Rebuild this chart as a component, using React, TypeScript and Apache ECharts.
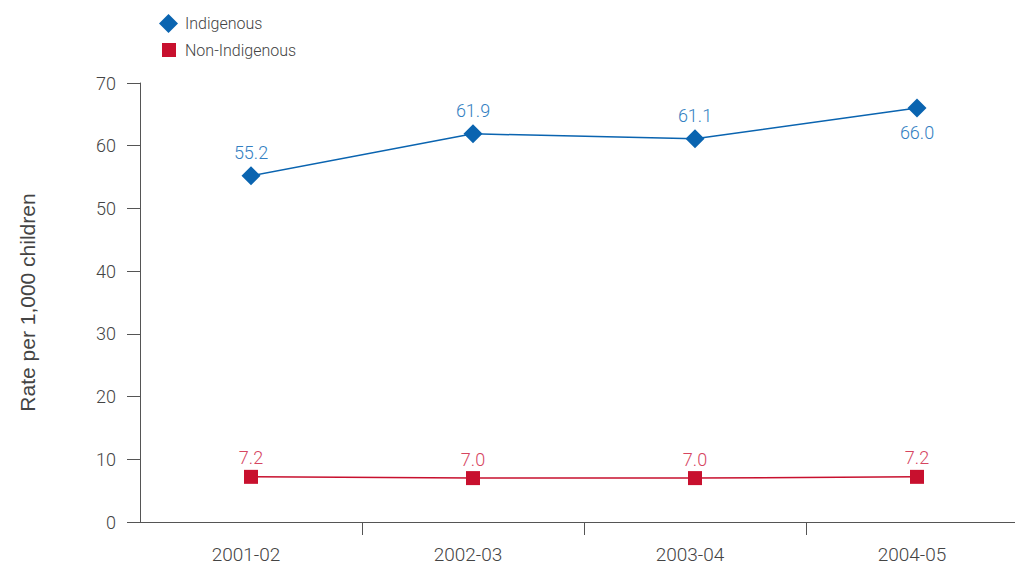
import React, { useEffect, useRef } from "react";
import * as echarts from "echarts";

const categories = ["2001-02", "2002-03", "2003-04", "2004-05"];
const indigenous = [55.2, 61.9, 61.1, 66.0];
const nonIndigenous = [7.2, 7.0, 7.0, 7.2];
const yTicks = { min: 0, max: 70, interval: 10 };

const FONT = "Roboto, 'Noto Sans', sans-serif";

export default function App() {
  const ref = useRef<HTMLDivElement>(null);
  useEffect(() => {
    if (!ref.current) return;
    const chart = echarts.init(ref.current, undefined, { renderer: "svg" });
    chart.setOption({
      animation: false,
      textStyle: { fontFamily: FONT },
      legend: [
        {
          left: 159,
          top: 14,
          padding: 0,
          itemWidth: 19,
          itemHeight: 19,
          data: [{ name: "Indigenous", icon: "diamond" }],
          textStyle: { fontSize: 16, fontWeight: 300, color: "#444", fontFamily: FONT, padding: [0, 0, 0, 2] },
        },
        {
          left: 162,
          top: 42,
          padding: 0,
          itemWidth: 14,
          itemHeight: 14,
          data: [{ name: "Non-Indigenous", icon: "rect" }],
          textStyle: { fontSize: 16, fontWeight: 300, color: "#444", fontFamily: FONT, padding: [0, 0, 0, 4] },
        },
      ],
      grid: { left: 140, right: 2, top: 83, bottom: 43 },
      xAxis: {
        type: "category",
        data: categories,
        boundaryGap: true,
        axisLine: { lineStyle: { color: "#555", width: 1 } },
        axisTick: {
          show: true,
          length: 13,
          interval: (i: number) => i !== 0 && i !== 4,
          lineStyle: { color: "#555" },
        },
        axisLabel: {
          color: "#444",
          fontSize: 19,
          fontWeight: 300,
          margin: 23,
          padding: [0, 10, 0, 0],
          fontFamily: FONT,
        },
      },
      yAxis: {
        type: "value",
        min: yTicks.min,
        max: yTicks.max,
        interval: yTicks.interval,
        name: "Rate per 1,000 children",
        nameLocation: "middle",
        nameGap: 102,
        nameTextStyle: { fontSize: 21, color: "#444", fontFamily: "'Liberation Sans', Arial, sans-serif" },
        axisLine: { show: true, lineStyle: { color: "#555", width: 1 } },
        axisTick: { show: true, length: 13, lineStyle: { color: "#555" } },
        axisLabel: { color: "#444", fontSize: 18, fontWeight: 300, margin: 24, fontFamily: FONT },
        splitLine: { show: false },
      },
      series: [
        {
          name: "Indigenous",
          type: "line",
          data: indigenous.map((v, i) => ({
            value: v,
            label: { position: i === 3 ? "bottom" : "top", distance: i === 3 ? 6 : 5 },
          })),
          symbol: "diamond",
          symbolSize: 19,
          color: "#0a64b0",
          lineStyle: { color: "#0a64b0", width: 1.5 },
          itemStyle: { color: "#0a64b0" },
          label: {
            show: true,
            color: "#347fc2",
            fontSize: 18,
            fontWeight: 300,
            fontFamily: FONT,
            formatter: (p: any) => Number(p.value).toFixed(1),
          },
        },
        {
          name: "Non-Indigenous",
          type: "line",
          data: nonIndigenous,
          symbol: "rect",
          symbolSize: 14,
          color: "#c8102e",
          lineStyle: { color: "#c8102e", width: 1.5 },
          itemStyle: { color: "#c8102e" },
          label: {
            show: true,
            position: "top",
            color: "#d6455f",
            fontSize: 18,
            fontWeight: 300,
            distance: 3,
            fontFamily: FONT,
            formatter: (p: any) => Number(p.value).toFixed(1),
          },
        },
      ],
    });
    return () => chart.dispose();
  }, []);
  return (
    <div style={{ position: "absolute", left: 0, top: 0, width: 1015, height: 565, overflow: "hidden" }}>
      <div ref={ref} style={{ width: 1030, height: 565 }} />
    </div>
  );
}
